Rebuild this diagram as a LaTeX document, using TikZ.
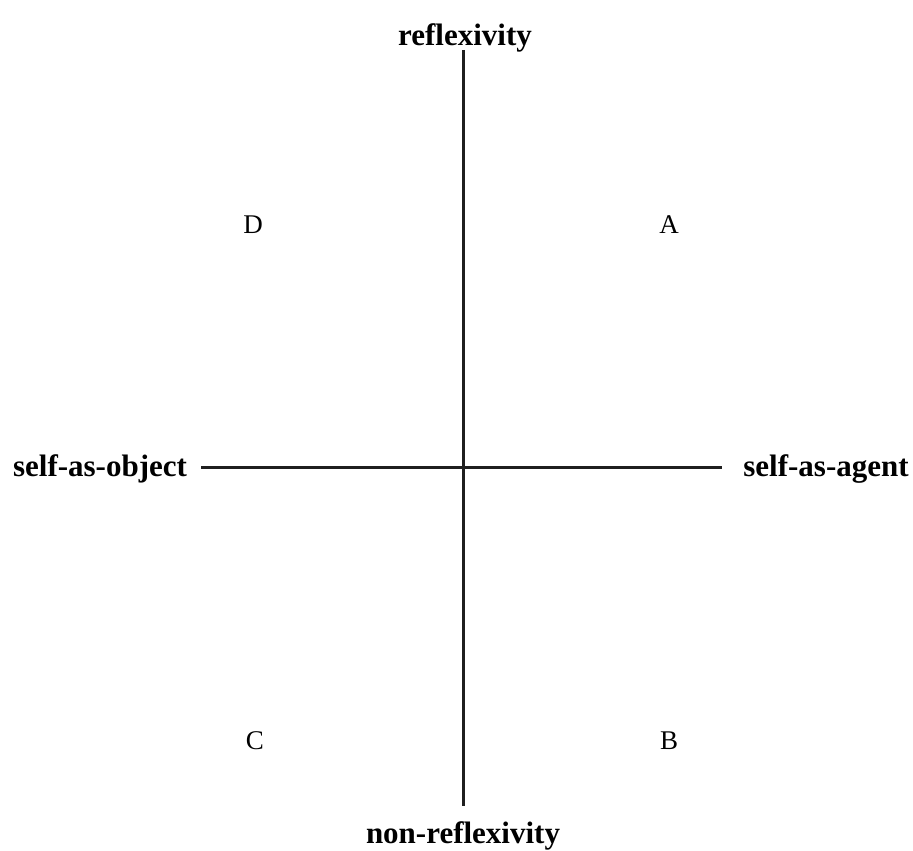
\documentclass[tikz,border=0pt]{standalone}
\usepackage{fontspec}
\setmainfont{Liberation Serif}
\begin{document}
\begin{tikzpicture}[x=1pt,y=-1pt,
  axis/.style={line width=3.3pt,color=black!88},
  pole/.style={font=\fontsize{31}{32}\selectfont\bfseries,anchor=base,inner sep=0pt},
  quad/.style={font=\fontsize{27}{28}\selectfont,anchor=base,inner sep=0pt}]
\useasboundingbox (0,0) rectangle (913,851);
\coordinate (top) at (463.5,50);
\coordinate (bot) at (463.5,806);
\coordinate (lft) at (201,467.5);
\coordinate (rgt) at (722,467.5);
\draw[axis] (top) -- (bot);
\draw[axis] (lft) -- (rgt);
\node[pole] (refl) at (465,46) {reflexivity};
\node[pole] (nonrefl) at (463,843) {non-reflexivity};
\node[pole] (obj) at (100,476) {self-as-object};
\node[pole] (agt) at (826,476) {self-as-agent};
\node[quad] (D) at (253,233) {D};
\node[quad] (A) at (669,233) {A};
\node[quad] (C) at (255,749) {C};
\node[quad] (B) at (669,749) {B};
\end{tikzpicture}
\end{document}
